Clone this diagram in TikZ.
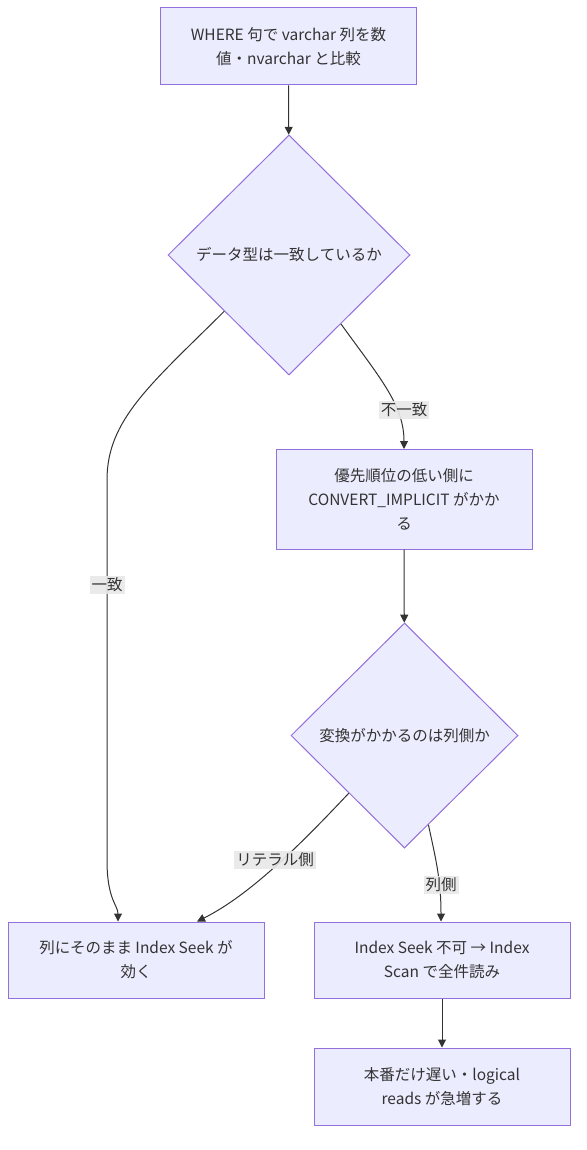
\documentclass[tikz,border=0pt]{standalone}
\usepackage{fontspec}
\setmainfont{Noto Sans CJK JP}
\usetikzlibrary{shapes.geometric,arrows.meta}
\definecolor{nodefill}{HTML}{ECECFF}
\definecolor{nodeline}{HTML}{9370DB}
\definecolor{edgecol}{HTML}{333333}
\definecolor{lblbg}{HTML}{E8E8E8}
\definecolor{txt}{HTML}{333333}
\begin{document}
\begin{tikzpicture}[x=1pt,y=-1pt,
  every node/.style={font=\fontsize{15.5}{24}\selectfont, text=txt},
  box/.style={draw=nodeline, fill=nodefill, line width=1pt, minimum width=256pt, minimum height=76pt, align=center, inner sep=0pt},
  decision/.style={diamond, draw=nodeline, fill=nodefill, line width=1pt, inner sep=0pt, align=center},
  flow/.style={draw=edgecol, line width=1pt, -{Triangle[length=8pt,width=8pt]}},
  lbl/.style={fill=lblbg, fill opacity=0.9, text opacity=1, inner sep=2pt}
]
\useasboundingbox (0,0) rectangle (586,1150);
\fill[white] (0,0) rectangle (586,1150);

\node[box, minimum height=77pt] (start) at (288.5,46.5) {WHERE 句で varchar 列を数\\値・nvarchar と比較};
\node[decision, minimum width=242pt, minimum height=240pt] (d1) at (289,255) {データ型は一致しているか};
\node[box, minimum height=100pt] (conv) at (404,499) {優先順位の低い側に\\CONVERT\_IMPLICIT がかか\\る};
\node[decision, minimum width=227pt, minimum height=225pt] (d2) at (404.5,735.5) {変換がかかるのは列側か};
\node[box] (seek) at (136,960) {列にそのまま Index Seek が\\効く};
\node[box] (scan) at (442,960) {Index Seek 不可 → Index\\Scan で全件読み};
\node[box, minimum height=77pt] (slow) at (442,1086.5) {本番だけ遅い・logical\\reads が急増する};

\draw[flow] (start) -- (d1);
\draw[flow] (d1.-53.4) .. controls (380,378) and (404,405) .. (404,449) coordinate (convtop);
\draw[flow] (d1.-139) .. controls (150,385) and (107,420) .. (107,480) -- (107,860) .. controls (107,900) and (118,905) .. ([xshift=-18pt]seek.north);
\draw[flow] (conv) -- (d2);
\draw[flow] (d2.-134.5) .. controls (300,845) and (250,895) .. ([xshift=61pt]seek.north);
\draw[flow] (d2.-75.5) .. controls (436,860) and (441,880) .. ([xshift=-1pt]scan.north);
\draw[flow] (scan) -- (slow);

\node[lbl] (l1) at (107,585) {一致};
\node[lbl] (l2) at (404,410) {不一致};
\node[lbl] (l3) at (275,860) {リテラル側};
\node[lbl] (l4) at (441,885) {列側};
\end{tikzpicture}
\end{document}
